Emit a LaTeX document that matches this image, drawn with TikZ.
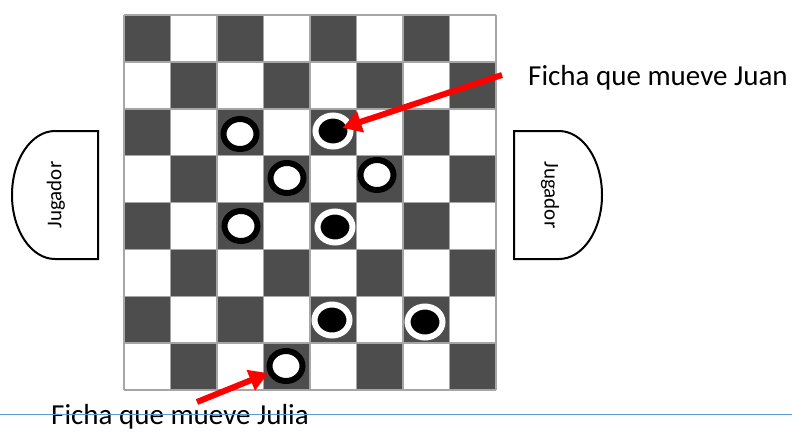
\documentclass[tikz,border=0pt]{standalone}
\usepackage{fontspec}
\setmainfont{Carlito}
\usetikzlibrary{arrows.meta,shapes.geometric}
\definecolor{casilla}{HTML}{4D4D4D}
\definecolor{rejilla}{HTML}{A6A6A6}
\definecolor{linea}{HTML}{5B9BD5}

\begin{document}
\begin{tikzpicture}[x=1pt, y=-1pt,
    every node/.style={font=\fontsize{29}{34}\selectfont},
    fblanca/.style={ellipse, draw=black, fill=white, line width=6pt,
                    minimum width=33pt, minimum height=30pt, inner sep=0pt},
    fnegra/.style={ellipse, draw=white, fill=black, line width=6pt,
                   minimum width=35pt, minimum height=31pt, inner sep=0pt},
    jug/.style={draw, line width=2pt, fill=white},
    jtxt/.style={font=\fontsize{21}{25}\selectfont, inner sep=0pt},
    etq/.style={anchor=base west, inner sep=0pt},
    arr/.style={-{Triangle[length=19pt,width=21pt]}, line width=6pt, red},
]
    \useasboundingbox (0,0) rectangle (792,432);
    %% tablero
    \foreach \r in {0,...,7}
      \foreach \c in {0,...,7} {
        \pgfmathtruncatemacro\paridad{mod(\r+\c,2)}
        \ifnum\paridad=0
          \fill[casilla] (124+46.5*\c,15+46.875*\r) rectangle ++(46.5,46.875);
        \fi
      }
    \foreach \i in {0,...,8} {
      \draw[rejilla, line width=1.5pt] (124+46.5*\i,15) -- (124+46.5*\i,390);
      \draw[rejilla, line width=1.5pt] (124,15+46.875*\i) -- (496,15+46.875*\i);
    }
    %% jugadores
    \draw[jug] (98,131) -- (55,131)
        arc[start angle=270, end angle=90, x radius=43, y radius=64]
        -- (98,259) -- cycle;
    \draw[jug] (514,131) -- (559,131)
        arc[start angle=270, end angle=450, x radius=43, y radius=64]
        -- (514,259) -- cycle;
    \node[jtxt, rotate=90] (jugIzq) at (56,195) {Jugador};
    \node[jtxt, rotate=-90] (jugDer) at (550,195) {Jugador};
    %% fichas
    \node[fblanca] (b1) at (240,134) {};
    \node[fblanca] (b2) at (287,178) {};
    \node[fblanca] (b3) at (377,175) {};
    \node[fblanca] (b4) at (241,226) {};
    \node[fblanca] (b5) at (286,366) {};
    \node[fnegra] (n1) at (333,131) {};
    \node[fnegra] (n2) at (335,227) {};
    \node[fnegra] (n3) at (332,320) {};
    \node[fnegra] (n4) at (425,322) {};
    %% etiquetas y flechas
    \node[etq] (txtJuan) at (528,85) {Ficha que mueve Juan};
    \node[etq] (txtJulia) at (51,424) {Ficha que mueve Julia};
    \coordinate (colaJuan) at (502,75);
    \coordinate (colaJulia) at (197,402);
    \draw[arr, shorten >=10pt] (colaJuan) -- (n1.center);
    \draw[arr, shorten >=19pt] (colaJulia) -- (b5.center);
    %% linea inferior
    \draw[linea, line width=1pt] (0,414) -- (792,414);
\end{tikzpicture}
\end{document}
